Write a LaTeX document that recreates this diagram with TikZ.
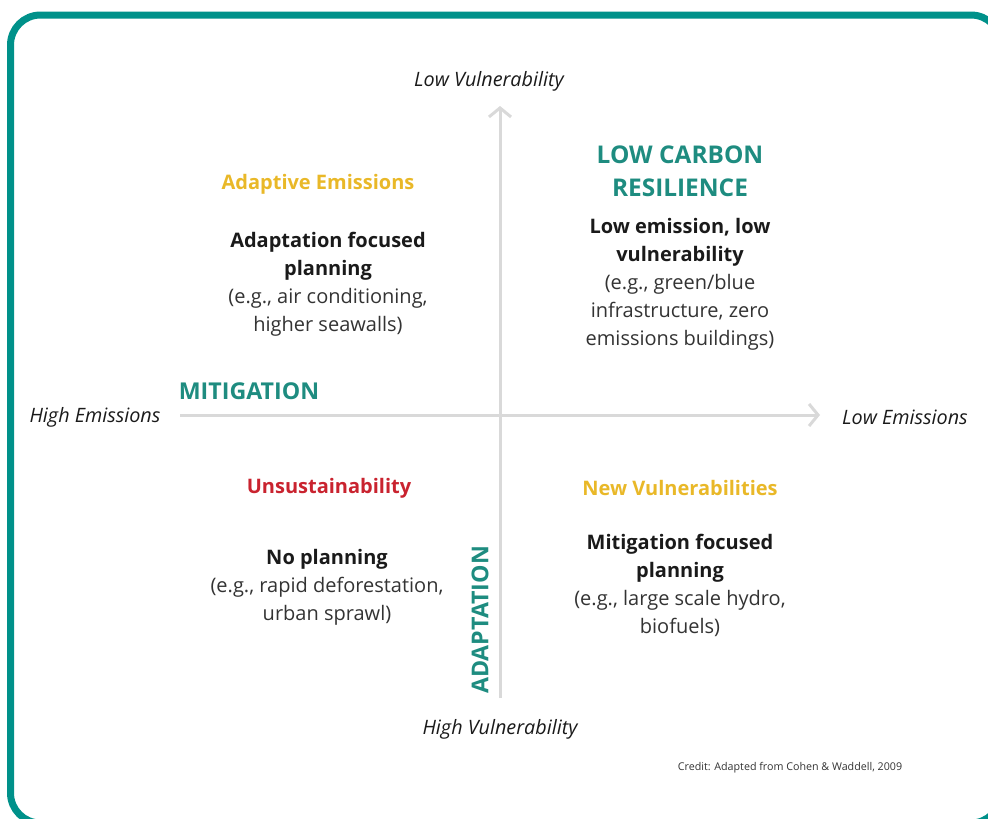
\documentclass[tikz,border=0pt]{standalone}
\usepackage{fontspec}
\setmainfont{Open Sans}
\usetikzlibrary{arrows.meta}
\definecolor{frameteal}{HTML}{00918A}
\definecolor{headteal}{HTML}{1E8C80}
\definecolor{gold}{HTML}{E9B828}
\definecolor{alertred}{HTML}{C9232F}
\definecolor{axisgray}{HTML}{D9D9D9}
\definecolor{bodyblack}{HTML}{1A1A1A}
\definecolor{bodygray}{HTML}{333333}
\tikzset{
  axis/.style={draw=axisgray, line width=3pt, -{Straight Barb[length=9pt,width=22pt,line width=3pt]}},
  axislabel/.style={font=\fontsize{19.8}{22}\selectfont\itshape, text=bodyblack, inner sep=0pt},
  heading/.style={font=\fontsize{24.4}{33}\selectfont\bfseries, text=headteal, align=center, inner sep=0pt},
  axisname/.style={font=\fontsize{23.2}{26}\selectfont\bfseries, text=headteal, inner sep=0pt},
  quadtitle/.style={font=\fontsize{20}{22}\selectfont\bfseries, inner sep=0pt},
  quadbody/.style={font=\fontsize{20}{28}\selectfont, text=bodygray, align=center, inner sep=0pt},
}
\newcommand{\keyline}[1]{{\bfseries\color{bodyblack}#1}}
\begin{document}
\begin{tikzpicture}[x=1pt,y=-1pt]
\useasboundingbox (0,0) rectangle (988,819);
% outer frame
\draw[frameteal, line width=7pt, rounded corners=30pt] (10.5,15) rectangle (1001,823);

% axes
\coordinate (xstart) at (180,415);
\coordinate (xend) at (820,415);
\coordinate (ystart) at (500,698);
\coordinate (yend) at (500,106);
\draw[axis] (xstart) -- (xend);
\draw[axis] (ystart) -- (yend);

% axis end labels
\node[axislabel] (lowvul) at (489,81) {Low Vulnerability};
\node[axislabel] (highvul) at (500,729) {High Vulnerability};
\node[axislabel] (highem) at (95,417) {High Emissions};
\node[axislabel] (lowem) at (905,417) {Low Emissions};

% axis names
\node[axisname] (mitig) at (249,391) {MITIGATION};
\node[axisname, rotate=90] (adapt) at (480,620) {ADAPTATION};

% upper left quadrant
\node[quadtitle, text=gold] (adem) at (318,184) {Adaptive Emissions};
\node[quadbody] (adbody) at (328,284) {\keyline{Adaptation focused}\\\keyline{planning}\\(e.g., air conditioning,\\higher seawalls)};

% upper right quadrant
\node[heading] (lcr) at (680,171) {LOW CARBON\\RESILIENCE};
\node[quadbody] (lcrbody) at (680,284) {\keyline{Low emission, low}\\\keyline{vulnerability}\\(e.g., green/blue\\infrastructure, zero\\emissions buildings)};

% lower left quadrant
\node[quadtitle, text=alertred] (unsus) at (329,488) {Unsustainability};
\node[quadbody] (unbody) at (327,587) {\keyline{No planning}\\(e.g., rapid deforestation,\\urban sprawl)};

% lower right quadrant
\node[quadtitle, text=gold] (newvul) at (680,488) {New Vulnerabilities};
\node[quadbody] (nvbody) at (680,585) {\keyline{Mitigation focused}\\\keyline{planning}\\(e.g., large scale hydro,\\biofuels)};

% source note
\node[font=\fontsize{10.7}{12}\selectfont, text=bodygray, inner sep=0pt] (credit) at (790,768) {Credit: Adapted from Cohen \& Waddell, 2009};
\end{tikzpicture}
\end{document}
